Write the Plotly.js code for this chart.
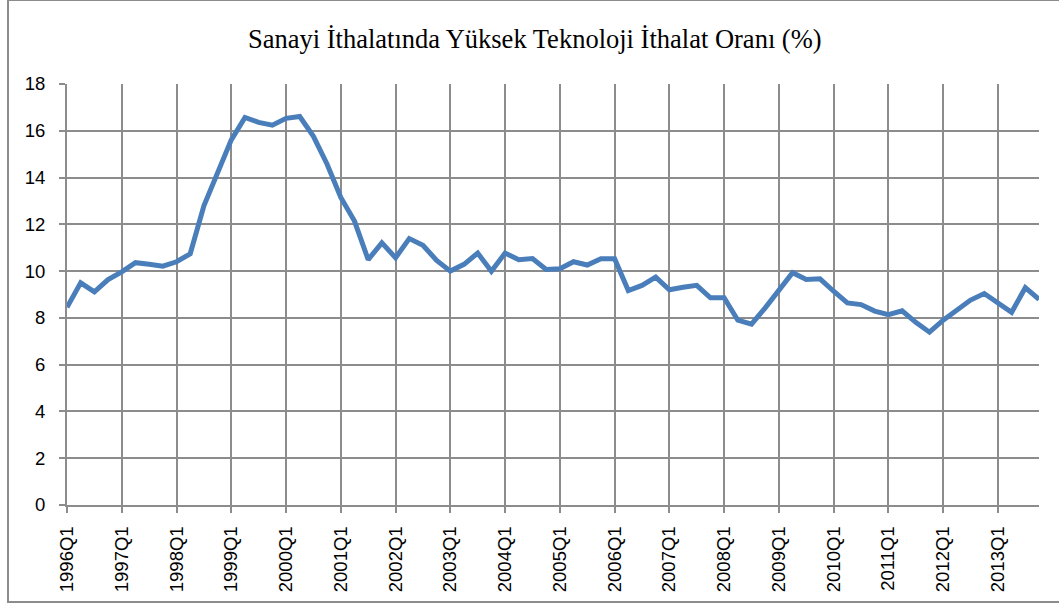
<!DOCTYPE html>
<html>
<head>
<meta charset="utf-8">
<script src="https://cdn.plot.ly/plotly-3.0.1.min.js"></script>
<style>
html,body{margin:0;padding:0;background:#fff;}
#wrap{position:relative;width:1059px;height:608px;overflow:hidden;}
#chart{width:1059px;height:608px;}
#frame{position:absolute;left:7px;top:-1px;width:1060px;height:604px;border:2px solid #8c8c8c;box-sizing:border-box;pointer-events:none;}
</style>
</head>
<body>
<div id="wrap"><div id="chart"></div><div id="frame"></div></div>
<script>
const years = [1996,1997,1998,1999,2000,2001,2002,2003,2004,2005,2006,2007,2008,2009,2010,2011,2012,2013];
const quarters = ["Q1","Q2","Q3","Q4"];
const categories = [];
years.forEach(y => quarters.forEach(q => categories.push(y + q)));
const tickLabels = years.map(y => y + "Q1");

const values = [
  8.45, 9.50, 9.11, 9.64,
  9.97, 10.36, 10.29, 10.21,
  10.40, 10.74, 12.79, 14.26,
  15.61, 16.57, 16.36, 16.24,
  16.53, 16.61, 15.76, 14.57,
  13.15, 12.14, 10.49, 11.21,
  10.57, 11.39, 11.10, 10.46,
  10.00, 10.29, 10.77, 9.99,
  10.77, 10.49, 10.54, 10.07,
  10.10, 10.40, 10.26, 10.53,
  10.53, 9.17, 9.39, 9.74,
  9.20, 9.31, 9.39, 8.86,
  8.86, 7.90, 7.73, 8.43,
  9.14, 9.93, 9.64, 9.67,
  9.14, 8.64, 8.57, 8.29,
  8.14, 8.30, 7.81, 7.39,
  7.90, 8.36, 8.76, 9.04,
  8.64, 8.24, 9.29, 8.79
];
const yTicks = [0,2,4,6,8,10,12,14,16,18];
const title = "Sanayi İthalatında Yüksek Teknoloji İthalat Oranı (%)";

const gridColor = "#8c8c8c";
const tickFont = {family: "Liberation Sans, Arial, sans-serif", size: 18.5, color: "#000"};

Plotly.newPlot("chart", [{
  x: categories,
  y: values,
  type: "scatter",
  mode: "lines",
  line: {color: "#4a7ebb", width: 5},
  hoverinfo: "x+y"
}], {
  width: 1059, height: 608,
  paper_bgcolor: "rgba(0,0,0,0)", plot_bgcolor: "#fff",
  margin: {l: 66.7, r: 20.3, t: 84.3, b: 103.3},
  showlegend: false,
  title: {text: title, x: 0.505, xanchor: "center", y: 0.936, yanchor: "middle",
          font: {family: "Liberation Serif, Times New Roman, serif", size: 26.5, color: "#000"}},
  xaxis: {
    type: "category",
    categoryorder: "array", categoryarray: categories,
    range: [0, categories.length - 1],
    tickmode: "array", tickvals: tickLabels, ticktext: tickLabels,
    tickangle: -90,
    showgrid: true, gridcolor: gridColor, gridwidth: 2,
    showline: true, linecolor: gridColor, linewidth: 2,
    ticks: "outside", ticklen: 6, tickwidth: 2, tickcolor: gridColor,
    ticklabelstandoff: 6,
    tickfont: tickFont,
    zeroline: false, fixedrange: true
  },
  yaxis: {
    range: [0, 18],
    tickmode: "array", tickvals: yTicks,
    showgrid: true, gridcolor: gridColor, gridwidth: 2,
    showline: true, linecolor: gridColor, linewidth: 2,
    ticks: "outside", ticklen: 6, tickwidth: 2, tickcolor: gridColor,
    ticklabelstandoff: 10,
    tickfont: tickFont,
    zeroline: false, fixedrange: true
  }
}, {displayModeBar: false, staticPlot: true});
</script>
</body>
</html>
